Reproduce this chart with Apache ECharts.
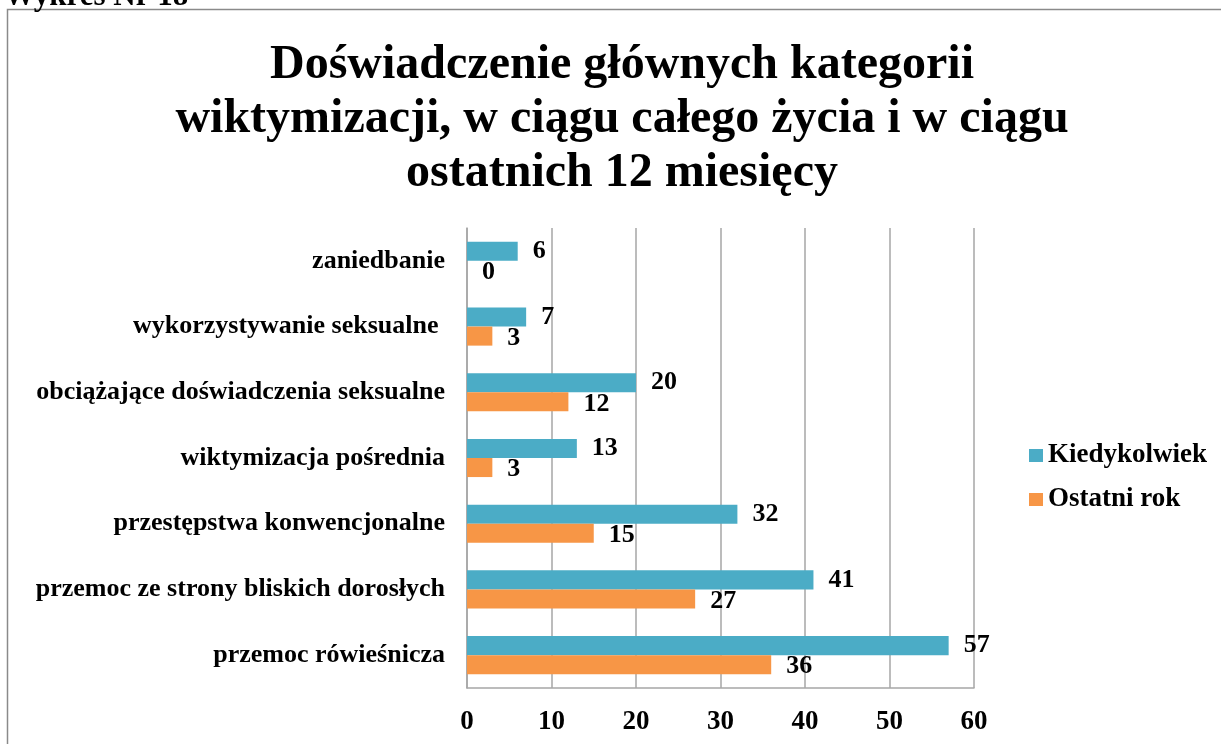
<!DOCTYPE html>
<html>
<head>
<meta charset="utf-8">
<script src="https://cdn.jsdelivr.net/npm/echarts@6/dist/echarts.min.js"></script>
<style>
html,body{margin:0;padding:0;background:#fff;}
#c{width:1221px;height:744px;}
</style>
</head>
<body>
<div id="c"></div>
<script>
const categories = [
  'zaniedbanie',
  'wykorzystywanie seksualne ',
  'obciążające doświadczenia seksualne',
  'wiktymizacja pośrednia',
  'przestępstwa konwencjonalne',
  'przemoc ze strony bliskich dorosłych',
  'przemoc rówieśnicza'
];
const kiedykolwiek = [6, 7, 20, 13, 32, 41, 57];
const ostatniRok = [0, 3, 12, 3, 15, 27, 36];
const seriesNames = ['Kiedykolwiek', 'Ostatni rok'];
const titleText = 'Doświadczenie głównych kategorii\nwiktymizacji, w ciągu całego życia i w ciągu\nostatnich 12 miesięcy';
const captionText = 'Wykres Nr 18';

const FONT = '"Liberation Serif", "Times New Roman", serif';
const chart = echarts.init(document.getElementById('c'));
const labelStyle = {
  show: true, position: 'right', distance: 15,
  fontFamily: FONT, fontWeight: 'bold', fontSize: 26, color: '#000'
};
chart.setOption({
  animation: false,
  backgroundColor: '#fff',
  title: {
    text: titleText,
    left: 617, top: 34, textAlign: 'center',
    textStyle: { fontFamily: FONT, fontWeight: 'bold', fontSize: 48, lineHeight: 54, color: '#000' }
  },
  graphic: [
    { type: 'rect', shape: { x: 7.5, y: 9.5, width: 1300, height: 800 },
      style: { fill: 'none', stroke: '#8a8a8a', lineWidth: 1.5 }, silent: true },
    { type: 'text', x: 4, y: 12, style: { text: captionText, font: 'bold 31px ' + FONT, fill: '#000', verticalAlign: 'bottom' } }
  ],
  legend: {
    orient: 'vertical', left: 1029, top: 442, padding: 0,
    itemWidth: 14, itemHeight: 13, itemGap: 17,
    icon: 'rect',
    textStyle: { fontFamily: FONT, fontWeight: 'bold', fontSize: 27, lineHeight: 27, color: '#000', padding: [0, 0, 0, 0] },
    data: seriesNames
  },
  grid: { left: 467, right: 1221 - 974, top: 228, bottom: 744 - 688, containLabel: false },
  xAxis: {
    type: 'value', min: 0, max: 60, interval: 10,
    axisLine: { show: true, lineStyle: { color: '#a6a6a6', width: 1.5 } },
    axisTick: { show: false },
    splitLine: { show: true, lineStyle: { color: '#a6a6a6', width: 1.5 } },
    axisLabel: { fontFamily: FONT, fontWeight: 'bold', fontSize: 27, color: '#000', margin: 21 }
  },
  yAxis: {
    type: 'category', data: categories, inverse: true,
    axisLine: { show: true, lineStyle: { color: '#a6a6a6', width: 1.5 } },
    axisTick: { show: false },
    axisLabel: { fontFamily: FONT, fontWeight: 'bold', fontSize: 26, color: '#000', margin: 22 }
  },
  series: [
    { name: seriesNames[0], type: 'bar', data: kiedykolwiek, barGap: '0%', barCategoryGap: '42%',
      itemStyle: { color: '#4BACC6' }, label: labelStyle },
    { name: seriesNames[1], type: 'bar', data: ostatniRok, barGap: '0%', barCategoryGap: '42%',
      itemStyle: { color: '#F79646' }, label: Object.assign({}, labelStyle, { offset: [0, 2] }) }
  ]
});
</script>
</body>
</html>
